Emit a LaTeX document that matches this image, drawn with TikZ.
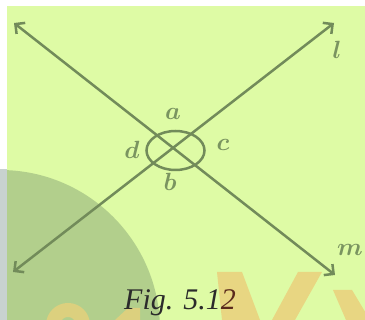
\documentclass[tikz,border=0pt]{standalone}
\usepackage{fontspec}
\newfontfamily\capfont{Liberation Serif}
\usetikzlibrary{arrows.meta,shapes.geometric}
\definecolor{bgwhite}{HTML}{FFFFFF}
\definecolor{bggreen}{HTML}{DEFBA5}
\definecolor{darkcirc}{HTML}{B2CF8C}
\definecolor{graystrip}{HTML}{C8D2CF}
\definecolor{wmorange}{HTML}{E8D682}
\definecolor{wmorangedark}{HTML}{DCD07E}
\definecolor{linecol}{HTML}{728B5A}
\definecolor{labcol}{HTML}{7A9460}
\definecolor{capcol}{HTML}{2B2B2B}
\definecolor{capred}{HTML}{5B2A1C}
\tikzset{
  geoline/.style={draw=linecol, line width=2.5pt, {Straight Barb[length=7pt,width=14pt]}-{Straight Barb[length=7pt,width=14pt]}},
  anglemark/.style={draw=linecol, line width=2.5pt},
  lab/.style={text=labcol, inner sep=0pt, font=\boldmath\fontsize{27}{27}\selectfont},
  captext/.style={text=capcol, inner sep=0pt, anchor=base, font=\capfont\itshape\fontsize{30}{30}\selectfont}
}
\begin{document}
\begin{tikzpicture}[x=1pt,y=-1pt]
\useasboundingbox (0,0) rectangle (365,320);
% background / watermark
\fill[bgwhite] (0,0) rectangle (365,320);
\fill[bggreen] (7,6) rectangle (365,320);
\fill[graystrip] (0,169) rectangle (7,320);
\begin{scope}
\clip (7,6) rectangle (365,320);
\fill[darkcirc] (0,330) circle[radius=160];
\draw[wmorangedark, line width=14pt] (68,325) circle[radius=15];
\fill[wmorangedark] (115,320) -- (128,308) -- (140,308) -- (140,320) -- cycle;
\fill[wmorange] (217,272) -- (242,272) -- (260,320) -- (222,320) -- cycle;
\fill[wmorange] (298,272) -- (322,272) -- (295,320) -- (272,320) -- cycle;
\fill[wmorange] (333,290) -- (352,290) -- (370,320) -- (346,320) -- cycle;
\end{scope}
% geometry
\coordinate (m1) at (14,23);
\coordinate (m2) at (335,275);
\coordinate (l1) at (13,272);
\coordinate (l2) at (334,23);
\draw[geoline] (m1) -- (m2);
\draw[geoline] (l1) -- (l2);
\node[anglemark, ellipse, minimum width=58pt, minimum height=39pt, inner sep=0pt] (ring) at (175.5,150.5) {};
\node[lab] (la) at (173,114) {$a$};
\node[lab] (lb) at (170,182) {$b$};
\node[lab] (lc) at (223,145) {$c$};
\node[lab] (ld) at (132,150) {$d$};
\node[lab] (ll) at (337,50) {$l$};
\node[lab] (lm) at (350,250) {$m$};
\node[captext] (cap) at (180,310) {Fig. 5.1\textcolor{capred}{2}};
\end{tikzpicture}
\end{document}
